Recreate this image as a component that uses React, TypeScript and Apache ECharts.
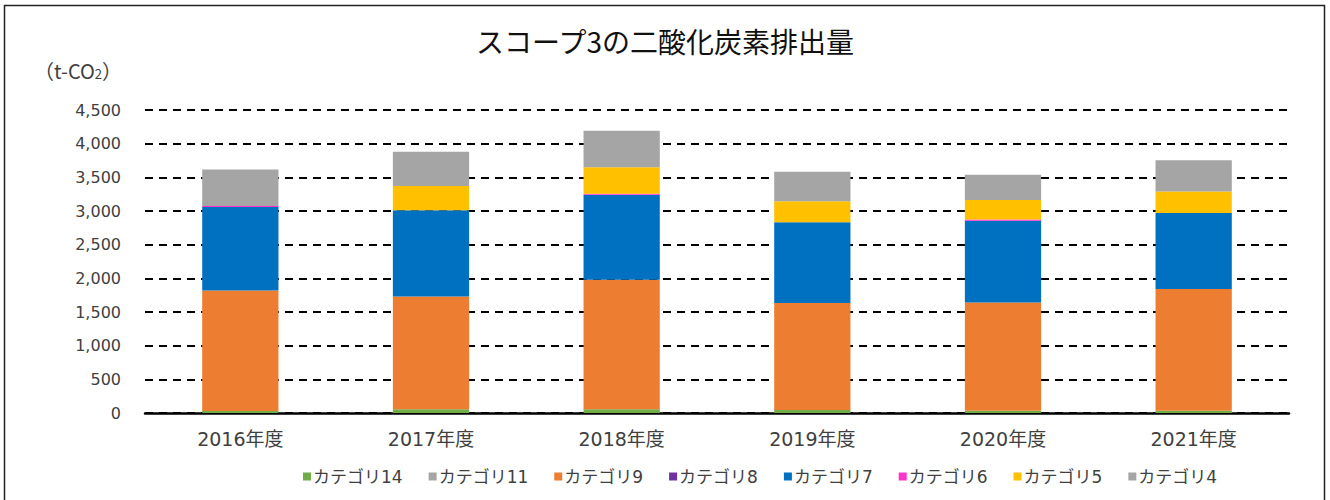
import React, { useEffect, useRef } from "react";
import * as echarts from "echarts";

const years = ["2016年度", "2017年度", "2018年度", "2019年度", "2020年度", "2021年度"];
const cat14 = [30, 55, 55, 45, 35, 35];
const cat11 = [0, 0, 0, 0, 0, 0];
const cat9 = [1790, 1676, 1924, 1587, 1606, 1806];
const cat8 = [0, 0, 0, 0, 0, 0];
const cat7 = [1241, 1280, 1261, 1200, 1216, 1131];
const cat6 = [15, 0, 18, 0, 15, 0];
const cat5 = [0, 362, 392, 313, 293, 317];
const cat4 = [540, 506, 541, 437, 372, 465];

const seriesDefs = [
  { name: "カテゴリ14", data: cat14, color: "#70AD47" },
  { name: "カテゴリ11", data: cat11, color: "#A5A5A5" },
  { name: "カテゴリ9", data: cat9, color: "#ED7D31" },
  { name: "カテゴリ8", data: cat8, color: "#7030A0" },
  { name: "カテゴリ7", data: cat7, color: "#0070C0" },
  { name: "カテゴリ6", data: cat6, color: "#FF33CC" },
  { name: "カテゴリ5", data: cat5, color: "#FFC000" },
  { name: "カテゴリ4", data: cat4, color: "#A5A5A5" },
];

const FONT = "'DejaVu Sans', 'Noto Sans CJK JP', sans-serif";
const CJK = "'Noto Sans CJK JP', 'Noto Sans', sans-serif";

export default function App() {
  const ref = useRef<HTMLDivElement>(null);
  useEffect(() => {
    if (!ref.current) return;
    const chart = echarts.init(ref.current, undefined, { renderer: "svg" });
    chart.setOption({
      animation: false,
      backgroundColor: "#ffffff",
      title: {
        text: "スコープ3の二酸化炭素排出量",
        left: "center",
        top: 22,
        textStyle: { fontFamily: CJK, fontSize: 28, fontWeight: "normal", color: "#111" },
      },
      graphic: [
        {
          type: "rect",
          shape: { x: 4.5, y: 5.5, width: 1320, height: 510 },
          style: { fill: "none", stroke: "#222", lineWidth: 1.5 },
          z: 100,
        },
        {
          type: "text",
          left: 34,
          top: 60,
          style: {
            text: "{a|（t-CO}{s|2}{a|）}",
            rich: {
              a: { fontFamily: CJK, fontSize: 20, fill: "#404040", verticalAlign: "bottom" },
              s: { fontFamily: CJK, fontSize: 13, fill: "#404040", padding: [10, 0, 0, 0] },
            },
          },
        },
      ],
      legend: {
        bottom: 10,
        left: 298,
        itemWidth: 8,
        itemHeight: 8,
        itemGap: 26,
        icon: "rect",
        textStyle: { fontFamily: FONT, fontSize: 17, color: "#404040", padding: [0, 0, 0, -3] },
        data: seriesDefs.map((s) => s.name),
      },
      grid: { left: 145, right: 41, top: 110, bottom: 87, containLabel: false },
      xAxis: {
        type: "category",
        data: years,
        axisLine: { lineStyle: { color: "#000", width: 2.5 } },
        axisTick: { show: false },
        axisLabel: { fontFamily: FONT, fontSize: 19, color: "#404040", margin: 16 },
      },
      yAxis: {
        type: "value",
        min: 0,
        max: 4500,
        interval: 500,
        axisLine: { show: false },
        axisTick: { show: false },
        axisLabel: {
          fontFamily: FONT,
          fontSize: 16,
          color: "#404040",
          margin: 24,
          formatter: (v: number) => v.toLocaleString("en-US"),
        },
        splitLine: { lineStyle: { color: "#000", width: 2, type: [8, 6] } },
      },
      series: seriesDefs.map((s) => ({
        name: s.name,
        type: "bar",
        stack: "total",
        data: s.data,
        barWidth: "40%",
        itemStyle: { color: s.color },
        emphasis: { disabled: true },
      })),
    });
    return () => chart.dispose();
  }, []);
  return (
    <div
      ref={ref}
      style={{ position: "fixed", left: 0, top: 0, width: 1330, height: 500 }}
    />
  );
}
